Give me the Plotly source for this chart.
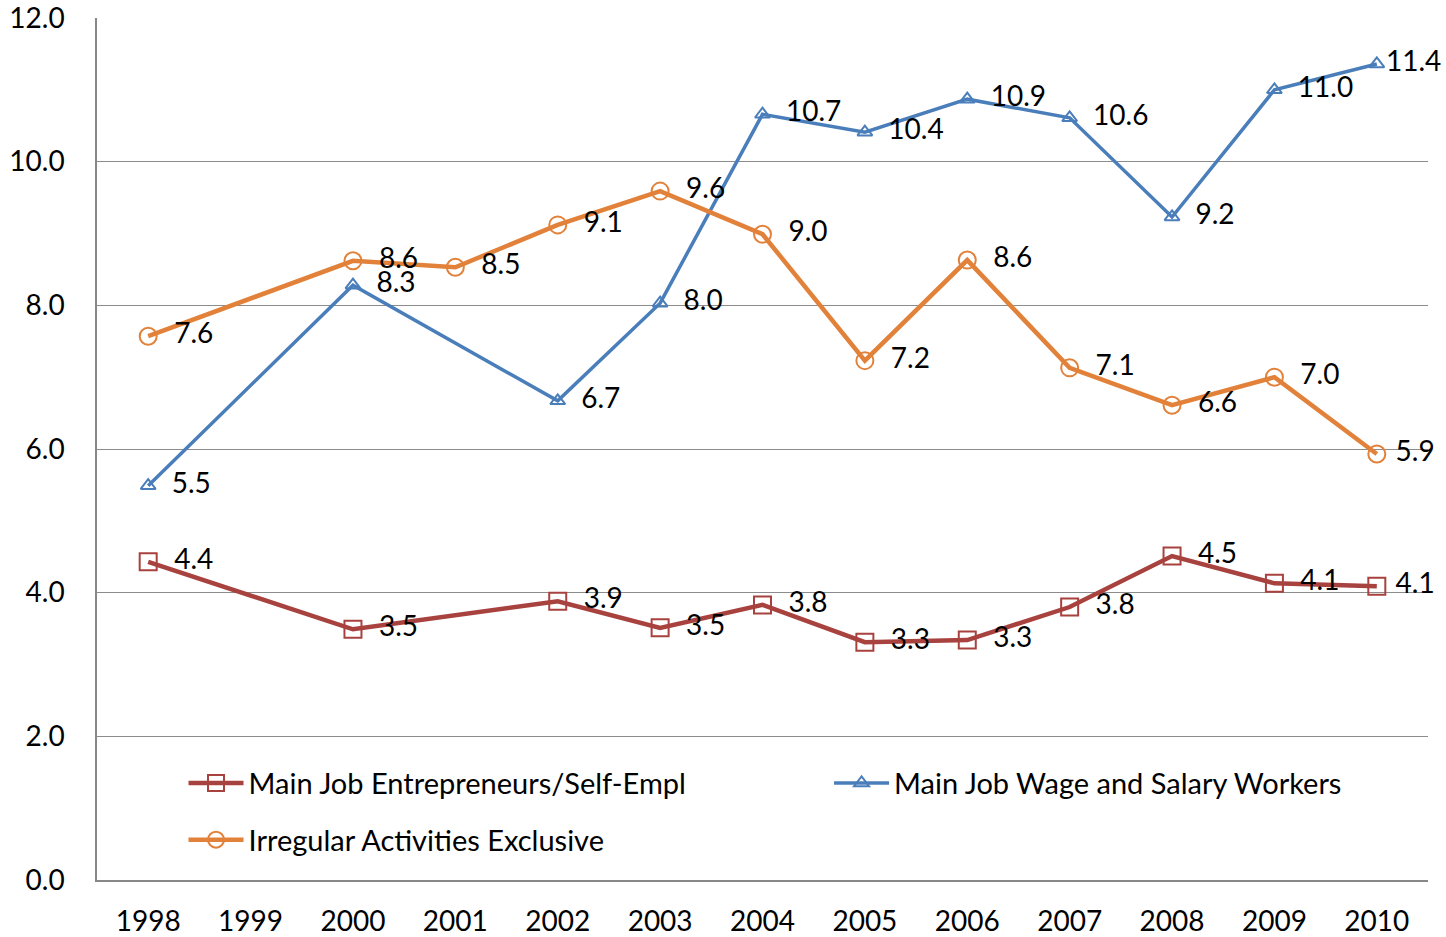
import plotly.graph_objects as go

years = [1998, 1999, 2000, 2001, 2002, 2003, 2004, 2005, 2006, 2007, 2008, 2009, 2010]
entrepreneurs = [4.43, None, 3.49, None, 3.88, 3.51, 3.83, 3.31, 3.34, 3.80, 4.51, 4.13, 4.09]
wage_workers = [5.49, None, 8.28, None, 6.67, 8.03, 10.66, 10.41, 10.87, 10.61, 9.23, 11.00, 11.36]
irregular = [7.57, None, 8.62, 8.53, 9.12, 9.59, 8.99, 7.23, 8.63, 7.13, 6.61, 7.00, 5.93]
y_ticks = [0, 2, 4, 6, 8, 10, 12]

FONT = "Lato"
fs = 28
NB = "\u00a0\u00a0"

fig = go.Figure()

def add(name, y, color, symbol, msize, lw, legend, group, last_pad):
    tmpl = [NB + "%{y:.1f}"] * (len(years) - 1) + [last_pad + "%{y:.1f}"]
    fig.add_trace(go.Scatter(
        x=years, y=y, name=name, mode="lines+markers+text",
        connectgaps=True, cliponaxis=False,
        line=dict(color=color, width=lw),
        marker=dict(symbol=symbol, size=msize, color=color, line=dict(width=2, color=color)),
        texttemplate=tmpl, textposition="middle right",
        textfont=dict(family=FONT, size=fs, color="black"),
        legend=legend, legendgroup=group,
    ))

add("Main Job Entrepreneurs/Self-Empl", entrepreneurs, "#A8423F", "square-open", 17, 4.5, "legend", "a", "\u00a0")
add("Main Job Wage and Salary Workers", wage_workers, "#4A7EBB", "triangle-up-open", 13, 3.5, "legend2", "b", "")
add("Irregular Activities Exclusive", irregular, "#E2823A", "circle-open", 17, 4.5, "legend", "c", "\u00a0")

fig.update_layout(
    width=1446, height=937,
    margin=dict(l=97, r=18, t=18, b=57, autoexpand=False),
    plot_bgcolor="white", paper_bgcolor="white",
    font=dict(family=FONT, size=fs, color="black"),
    xaxis=dict(
        range=[1997.5, 2010.5], tickvals=years, ticktext=[str(v) for v in years],
        showgrid=False, showline=True, linecolor="#878787", linewidth=1.5,
        ticks="", ticklabelstandoff=16, zeroline=False, automargin=False,
        ticklabeloverflow="allow",
        tickfont=dict(family=FONT, size=fs),
    ),
    yaxis=dict(
        range=[0, 12], tickvals=y_ticks, tickformat=".1f",
        showgrid=True, gridcolor="#8C8C8C", gridwidth=1.2,
        showline=True, linecolor="#878787", linewidth=1.5,
        ticks="", ticklabelstandoff=25, zeroline=False, automargin=False,
        ticklabeloverflow="allow",
        tickfont=dict(family=FONT, size=fs),
    ),
    showlegend=True,
    legend=dict(
        x=0.065, y=0.142, xanchor="left", yanchor="top",
        bgcolor="rgba(0,0,0,0)", traceorder="grouped", tracegroupgap=16,
        font=dict(family=FONT, size=29), itemwidth=55,
    ),
    legend2=dict(
        x=0.550, y=0.142, xanchor="left", yanchor="top",
        bgcolor="rgba(0,0,0,0)",
        font=dict(family=FONT, size=29), itemwidth=55,
    ),
)

fig.write_html("out.html", config={"displayModeBar": False},
               post_script="document.body.style.margin='0';document.body.style.overflow='hidden';")
